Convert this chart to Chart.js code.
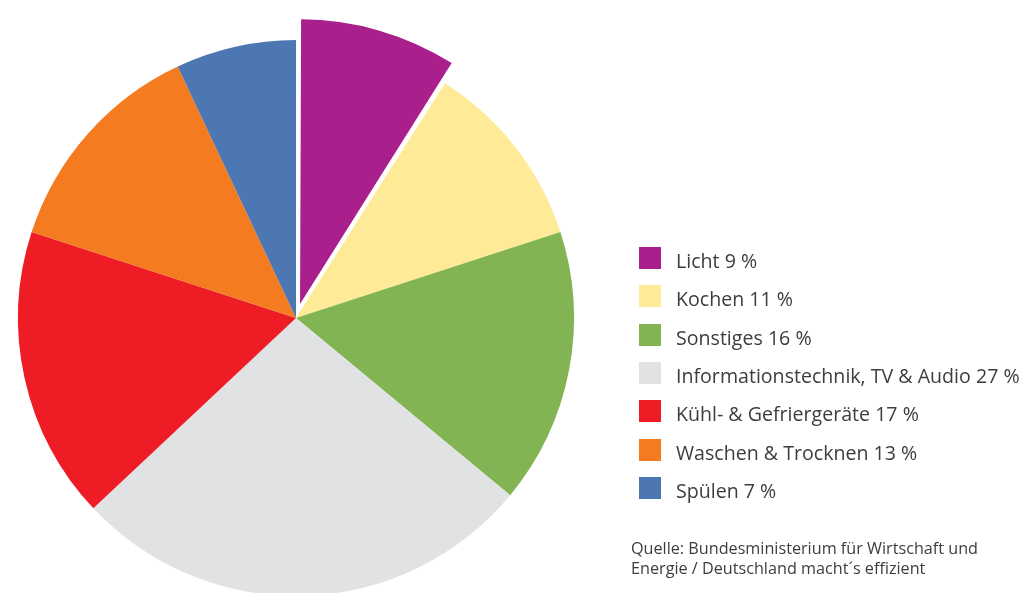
<!DOCTYPE html>
<html>
<head>
<meta charset="utf-8">
<script src="https://cdn.jsdelivr.net/npm/chart.js@4"></script>
<style>
  html, body { margin: 0; padding: 0; background: #fff; overflow: hidden; }
  #wrap { position: relative; width: 1023px; height: 593px; }
  #c { position: absolute; left: 0; top: 0; }
  .row { position: absolute; left: 639px; height: 22px; }
  .sw { position: absolute; left: 0; top: 0; width: 22px; height: 22px; }
  .lt { position: absolute; left: 37px; top: -1px; white-space: nowrap; font-family: "Open Sans", sans-serif; font-size: 19.6px; color: #3d3d3d; line-height: 30px; }
  #src { position: absolute; left: 631px; top: 538px; font-family: "Open Sans", sans-serif; font-size: 16.2px; line-height: 20px; color: #3d3d3d; }
</style>
</head>
<body>
<div id="wrap">
  <canvas id="c" width="1023" height="593"></canvas>
  <div id="legend"></div>
  <div id="src">Quelle: Bundesministerium für Wirtschaft und<br>Energie / Deutschland macht´s effizient</div>
</div>
<script>
const categories = ["Licht", "Kochen", "Sonstiges", "Informationstechnik, TV & Audio", "Kühl- & Gefriergeräte", "Waschen & Trocknen", "Spülen"];
const shares = [9, 11, 16, 27, 17, 13, 7];
const colors = ["#A91F8B", "#FFEB97", "#83B453", "#E1E2E4", "#EE1D25", "#F47B20", "#4C77B2"];
const offsets = [58, 0, 0, 0, 0, 0, 0];

const legend = document.getElementById('legend');
categories.forEach((name, i) => {
  const row = document.createElement('div');
  row.className = 'row';
  row.style.top = (247 + i * 38.3) + 'px';
  const sw = document.createElement('div');
  sw.className = 'sw';
  sw.style.background = colors[i];
  const lt = document.createElement('div');
  lt.className = 'lt';
  lt.textContent = name + ' ' + shares[i] + ' %';
  row.appendChild(sw);
  row.appendChild(lt);
  legend.appendChild(row);
});

new Chart(document.getElementById('c'), {
  type: 'pie',
  data: {
    labels: categories,
    datasets: [{
      data: shares,
      backgroundColor: colors,
      borderWidth: 0,
      offset: offsets,
      clip: false
    }]
  },
  options: {
    responsive: false,
    animation: false,
    radius: 278,
    layout: { padding: { left: 0, right: 431, top: 43, bottom: 0 } },
    plugins: { legend: { display: false }, tooltip: { enabled: false } },
    events: []
  }
});
</script>
</body>
</html>
